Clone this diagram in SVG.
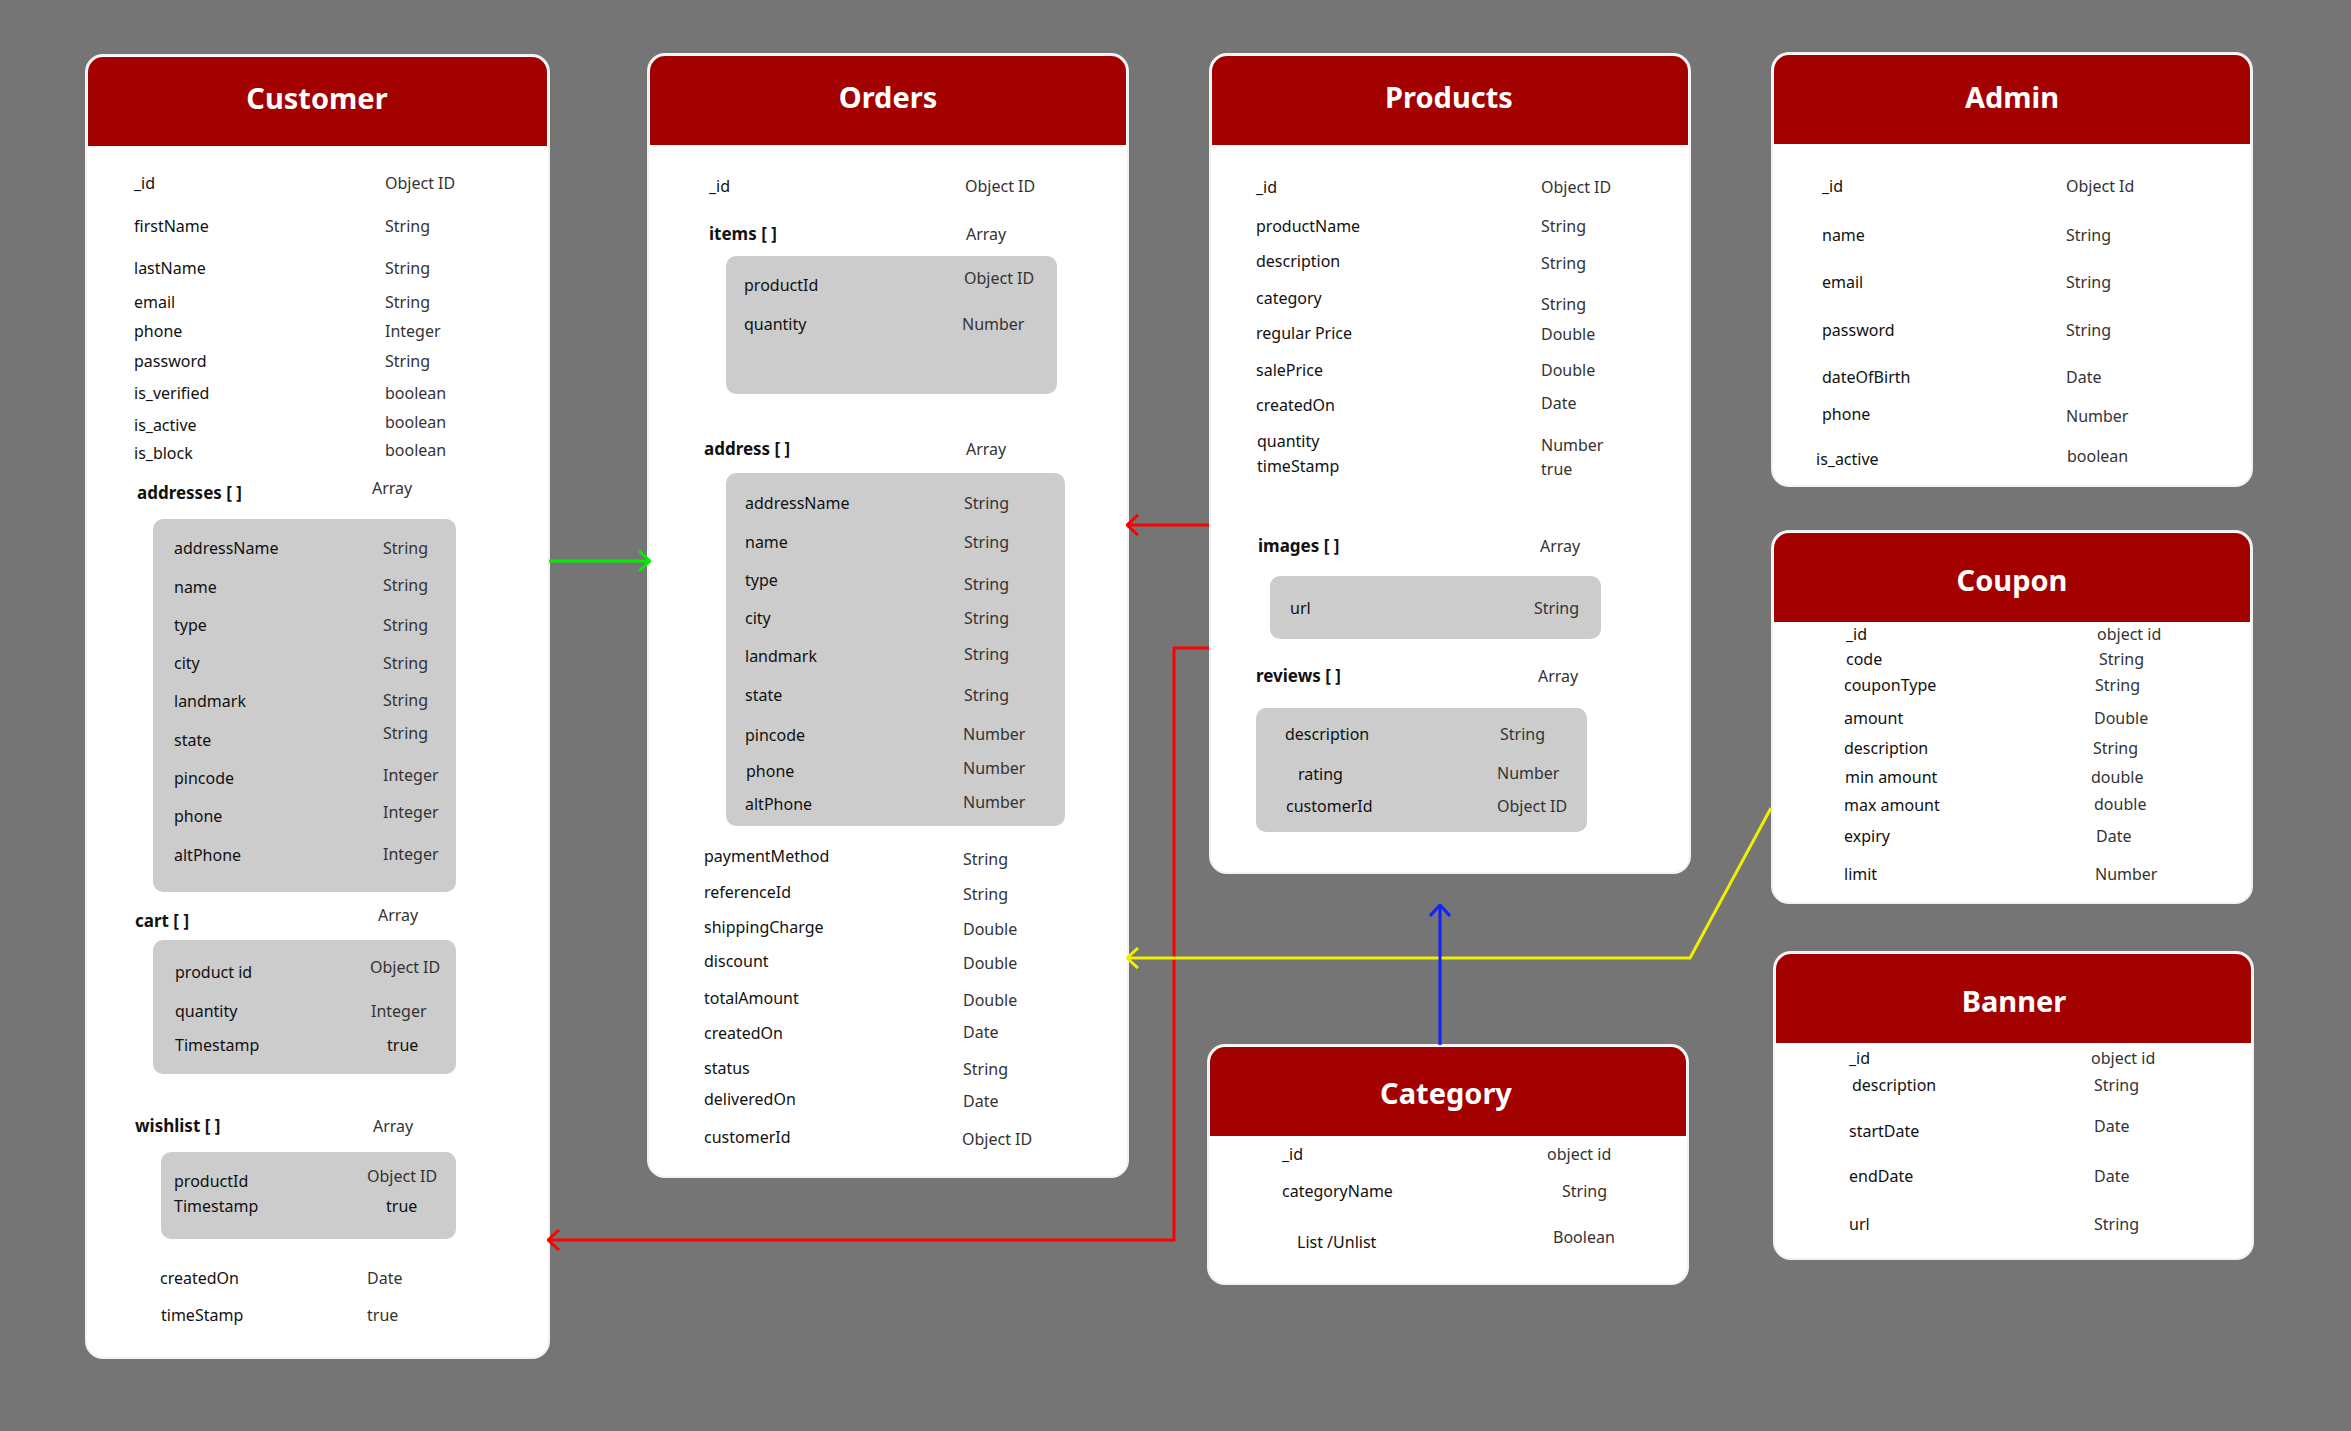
<svg xmlns="http://www.w3.org/2000/svg" width="2351" height="1431" viewBox="0 0 2351 1431">
<style>
.card{fill:#ffffff;stroke:#f2f2f2;stroke-width:2}
.hdr{fill:#a30000}
.sub{fill:#cccccc}
.title{font-family:"Noto Sans","Open Sans","DejaVu Sans",sans-serif;font-size:29px;font-weight:700;fill:#ffffff;text-anchor:middle}
text{font-family:"Noto Sans","Open Sans","DejaVu Sans",sans-serif;font-size:16px}
.f{fill:#111111}
.t{fill:#333333}
.b{fill:#111111;font-weight:700;font-size:17px}
.conn{fill:none;stroke-width:3}
.red{stroke:#ff0000}
.green{stroke:#00ee00}
.yellow{stroke:#eef000}
.blue{stroke:#1020ff}
</style>
<defs>
<marker id="aRed" viewBox="0 0 13 22" refX="12" refY="11" markerWidth="13" markerHeight="22" markerUnits="userSpaceOnUse" orient="auto"><path d="M1,1 L12,11 L1,21" fill="none" stroke="#ff0000" stroke-width="3"/></marker>
<marker id="aGreen" viewBox="0 0 13 22" refX="12" refY="11" markerWidth="13" markerHeight="22" markerUnits="userSpaceOnUse" orient="auto"><path d="M1,1 L12,11 L1,21" fill="none" stroke="#00ee00" stroke-width="3"/></marker>
<marker id="aYellow" viewBox="0 0 13 22" refX="12" refY="11" markerWidth="13" markerHeight="22" markerUnits="userSpaceOnUse" orient="auto"><path d="M1,1 L12,11 L1,21" fill="none" stroke="#eef000" stroke-width="3"/></marker>
<marker id="aBlue" viewBox="0 0 13 22" refX="12" refY="11" markerWidth="13" markerHeight="22" markerUnits="userSpaceOnUse" orient="auto"><path d="M1,1 L12,11 L1,21" fill="none" stroke="#1020ff" stroke-width="3"/></marker>
</defs>
<rect x="0" y="0" width="2351" height="1431" fill="#757575"/>

<g id="customer">
<rect class="card" x="86" y="55" width="463" height="1303" rx="17"/>
<path class="hdr" d="M88,146 V72 A15,15 0 0 1 103,57 H532 A15,15 0 0 1 547,72 V146 Z"/>
<text class="title" x="317" y="109">Customer</text>
<text class="f" x="134" y="189">_id</text><text class="t" x="385" y="189">Object ID</text>
<text class="f" x="134" y="232">firstName</text><text class="t" x="385" y="232">String</text>
<text class="f" x="134" y="274">lastName</text><text class="t" x="385" y="274">String</text>
<text class="f" x="134" y="308">email</text><text class="t" x="385" y="308">String</text>
<text class="f" x="134" y="337">phone</text><text class="t" x="385" y="337">Integer</text>
<text class="f" x="134" y="367">password</text><text class="t" x="385" y="367">String</text>
<text class="f" x="134" y="399">is_verified</text><text class="t" x="385" y="399">boolean</text>
<text class="f" x="134" y="431">is_active</text><text class="t" x="385" y="428">boolean</text>
<text class="f" x="134" y="459">is_block</text><text class="t" x="385" y="456">boolean</text>
<text class="b" x="137" y="499">addresses [ ]</text><text class="t" x="372" y="494">Array</text>
<rect class="sub" x="153" y="519" width="303" height="373" rx="10"/>
<text class="f" x="174" y="554">addressName</text><text class="t" x="383" y="554">String</text>
<text class="f" x="174" y="593">name</text><text class="t" x="383" y="591">String</text>
<text class="f" x="174" y="631">type</text><text class="t" x="383" y="631">String</text>
<text class="f" x="174" y="669">city</text><text class="t" x="383" y="669">String</text>
<text class="f" x="174" y="707">landmark</text><text class="t" x="383" y="706">String</text>
<text class="f" x="174" y="746">state</text><text class="t" x="383" y="739">String</text>
<text class="f" x="174" y="784">pincode</text><text class="t" x="383" y="781">Integer</text>
<text class="f" x="174" y="822">phone</text><text class="t" x="383" y="818">Integer</text>
<text class="f" x="174" y="861">altPhone</text><text class="t" x="383" y="860">Integer</text>
<text class="b" x="135" y="927">cart [ ]</text><text class="t" x="378" y="921">Array</text>
<rect class="sub" x="153" y="940" width="303" height="134" rx="10"/>
<text class="f" x="175" y="978">product id</text><text class="t" x="370" y="973">Object ID</text>
<text class="f" x="175" y="1017">quantity</text><text class="t" x="371" y="1017">Integer</text>
<text class="f" x="175" y="1051">Timestamp</text><text class="f" x="387" y="1051">true</text>
<text class="b" x="135" y="1132">wishlist [ ]</text><text class="t" x="373" y="1132">Array</text>
<rect class="sub" x="161" y="1152" width="295" height="87" rx="10"/>
<text class="f" x="174" y="1187">productId</text><text class="t" x="367" y="1182">Object ID</text>
<text class="f" x="174" y="1212">Timestamp</text><text class="f" x="386" y="1212">true</text>
<text class="f" x="160" y="1284">createdOn</text><text class="t" x="367" y="1284">Date</text>
<text class="f" x="161" y="1321">timeStamp</text><text class="t" x="367" y="1321">true</text>
</g>

<g id="orders">
<rect class="card" x="648" y="54" width="480" height="1123" rx="17"/>
<path class="hdr" d="M650,145 V71 A15,15 0 0 1 665,56 H1111 A15,15 0 0 1 1126,71 V145 Z"/>
<text class="title" x="888" y="108">Orders</text>
<text class="f" x="709" y="192">_id</text><text class="t" x="965" y="192">Object ID</text>
<text class="b" x="709" y="240">items [ ]</text><text class="t" x="966" y="240">Array</text>
<rect class="sub" x="726" y="256" width="331" height="138" rx="10"/>
<text class="f" x="744" y="291">productId</text><text class="t" x="964" y="284">Object ID</text>
<text class="f" x="744" y="330">quantity</text><text class="t" x="962" y="330">Number</text>
<text class="b" x="704" y="455">address [ ]</text><text class="t" x="966" y="455">Array</text>
<rect class="sub" x="726" y="473" width="339" height="353" rx="10"/>
<text class="f" x="745" y="509">addressName</text><text class="t" x="964" y="509">String</text>
<text class="f" x="745" y="548">name</text><text class="t" x="964" y="548">String</text>
<text class="f" x="745" y="586">type</text><text class="t" x="964" y="590">String</text>
<text class="f" x="745" y="624">city</text><text class="t" x="964" y="624">String</text>
<text class="f" x="745" y="662">landmark</text><text class="t" x="964" y="660">String</text>
<text class="f" x="745" y="701">state</text><text class="t" x="964" y="701">String</text>
<text class="f" x="745" y="741">pincode</text><text class="t" x="963" y="740">Number</text>
<text class="f" x="746" y="777">phone</text><text class="t" x="963" y="774">Number</text>
<text class="f" x="745" y="810">altPhone</text><text class="t" x="963" y="808">Number</text>
<text class="f" x="704" y="862">paymentMethod</text><text class="t" x="963" y="865">String</text>
<text class="f" x="704" y="898">referenceId</text><text class="t" x="963" y="900">String</text>
<text class="f" x="704" y="933">shippingCharge</text><text class="t" x="963" y="935">Double</text>
<text class="f" x="704" y="967">discount</text><text class="t" x="963" y="969">Double</text>
<text class="f" x="704" y="1004">totalAmount</text><text class="t" x="963" y="1006">Double</text>
<text class="f" x="704" y="1039">createdOn</text><text class="t" x="963" y="1038">Date</text>
<text class="f" x="704" y="1074">status</text><text class="t" x="963" y="1075">String</text>
<text class="f" x="704" y="1105">deliveredOn</text><text class="t" x="963" y="1107">Date</text>
<text class="f" x="704" y="1143">customerId</text><text class="t" x="962" y="1145">Object ID</text>
</g>

<g id="products">
<rect class="card" x="1210" y="54" width="480" height="819" rx="17"/>
<path class="hdr" d="M1212,145 V71 A15,15 0 0 1 1227,56 H1673 A15,15 0 0 1 1688,71 V145 Z"/>
<text class="title" x="1449" y="108">Products</text>
<text class="f" x="1256" y="193">_id</text><text class="t" x="1541" y="193">Object ID</text>
<text class="f" x="1256" y="232">productName</text><text class="t" x="1541" y="232">String</text>
<text class="f" x="1256" y="267">description</text><text class="t" x="1541" y="269">String</text>
<text class="f" x="1256" y="304">category</text><text class="t" x="1541" y="310">String</text>
<text class="f" x="1256" y="339">regular Price</text><text class="t" x="1541" y="340">Double</text>
<text class="f" x="1256" y="376">salePrice</text><text class="t" x="1541" y="376">Double</text>
<text class="f" x="1256" y="411">createdOn</text><text class="t" x="1541" y="409">Date</text>
<text class="f" x="1257" y="447">quantity</text><text class="t" x="1541" y="451">Number</text>
<text class="f" x="1257" y="472">timeStamp</text><text class="t" x="1541" y="475">true</text>
<text class="b" x="1258" y="552">images [ ]</text><text class="t" x="1540" y="552">Array</text>
<rect class="sub" x="1270" y="576" width="331" height="63" rx="10"/>
<text class="f" x="1290" y="614">url</text><text class="t" x="1534" y="614">String</text>
<text class="b" x="1256" y="682">reviews [ ]</text><text class="t" x="1538" y="682">Array</text>
<rect class="sub" x="1256" y="708" width="331" height="124" rx="10"/>
<text class="f" x="1285" y="740">description</text><text class="t" x="1500" y="740">String</text>
<text class="f" x="1298" y="780">rating</text><text class="t" x="1497" y="779">Number</text>
<text class="f" x="1286" y="812">customerId</text><text class="t" x="1497" y="812">Object ID</text>
</g>

<g id="admin">
<rect class="card" x="1772" y="53" width="480" height="433" rx="17"/>
<path class="hdr" d="M1774,144 V70 A15,15 0 0 1 1789,55 H2235 A15,15 0 0 1 2250,70 V144 Z"/>
<text class="title" x="2012" y="108">Admin</text>
<text class="f" x="1822" y="192">_id</text><text class="t" x="2066" y="192">Object Id</text>
<text class="f" x="1822" y="241">name</text><text class="t" x="2066" y="241">String</text>
<text class="f" x="1822" y="288">email</text><text class="t" x="2066" y="288">String</text>
<text class="f" x="1822" y="336">password</text><text class="t" x="2066" y="336">String</text>
<text class="f" x="1822" y="383">dateOfBirth</text><text class="t" x="2066" y="383">Date</text>
<text class="f" x="1822" y="420">phone</text><text class="t" x="2066" y="422">Number</text>
<text class="f" x="1816" y="465">is_active</text><text class="t" x="2067" y="462">boolean</text>
</g>

<g id="coupon">
<rect class="card" x="1772" y="531" width="480" height="372" rx="17"/>
<path class="hdr" d="M1774,622 V548 A15,15 0 0 1 1789,533 H2235 A15,15 0 0 1 2250,548 V622 Z"/>
<text class="title" x="2012" y="591">Coupon</text>
<text class="f" x="1846" y="640">_id</text><text class="t" x="2097" y="640">object id</text>
<text class="f" x="1846" y="665">code</text><text class="t" x="2099" y="665">String</text>
<text class="f" x="1844" y="691">couponType</text><text class="t" x="2095" y="691">String</text>
<text class="f" x="1844" y="724">amount</text><text class="t" x="2094" y="724">Double</text>
<text class="f" x="1844" y="754">description</text><text class="t" x="2093" y="754">String</text>
<text class="f" x="1845" y="783">min amount</text><text class="t" x="2091" y="783">double</text>
<text class="f" x="1844" y="811">max amount</text><text class="t" x="2094" y="810">double</text>
<text class="f" x="1844" y="842">expiry</text><text class="t" x="2096" y="842">Date</text>
<text class="f" x="1844" y="880">limit</text><text class="t" x="2095" y="880">Number</text>
</g>

<g id="banner">
<rect class="card" x="1774" y="952" width="479" height="307" rx="17"/>
<path class="hdr" d="M1776,1043 V969 A15,15 0 0 1 1791,954 H2236 A15,15 0 0 1 2251,969 V1043 Z"/>
<text class="title" x="2014" y="1012">Banner</text>
<text class="f" x="1849" y="1064">_id</text><text class="t" x="2091" y="1064">object id</text>
<text class="f" x="1852" y="1091">description</text><text class="t" x="2094" y="1091">String</text>
<text class="f" x="1849" y="1137">startDate</text><text class="t" x="2094" y="1132">Date</text>
<text class="f" x="1849" y="1182">endDate</text><text class="t" x="2094" y="1182">Date</text>
<text class="f" x="1849" y="1230">url</text><text class="t" x="2094" y="1230">String</text>
</g>

<g id="category">
<rect class="card" x="1208" y="1045" width="480" height="239" rx="17"/>
<path class="hdr" d="M1210,1136 V1062 A15,15 0 0 1 1225,1047 H1671 A15,15 0 0 1 1686,1062 V1136 Z"/>
<text class="title" x="1446" y="1104">Category</text>
<text class="f" x="1282" y="1160">_id</text><text class="t" x="1547" y="1160">object id</text>
<text class="f" x="1282" y="1197">categoryName</text><text class="t" x="1562" y="1197">String</text>
<text class="f" x="1297" y="1248">List /Unlist</text><text class="t" x="1553" y="1243">Boolean</text>
</g>

<g id="connectors">
<path class="conn green" d="M549,561 H650" marker-end="url(#aGreen)"/>
<path class="conn red" d="M1209,525 H1127" marker-end="url(#aRed)"/>
<path class="conn red" d="M1209,648 H1174 V1240 H548" marker-end="url(#aRed)"/>
<path class="conn yellow" d="M1771,808 L1690,958 H1127" marker-end="url(#aYellow)"/>
<path class="conn blue" d="M1440,1045 V905" marker-end="url(#aBlue)"/>
</g>
</svg>
